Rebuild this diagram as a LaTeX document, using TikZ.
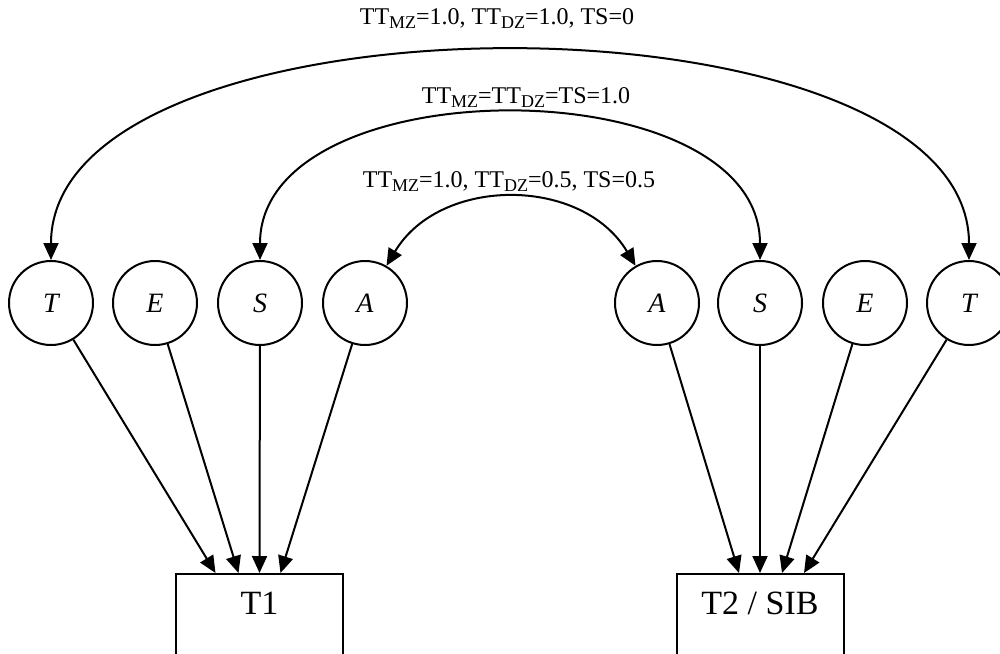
\documentclass[tikz,border=0pt]{standalone}
\usepackage{fontspec}
\setmainfont{Liberation Serif}
\usetikzlibrary{arrows.meta,calc}
\newcommand{\sbx}[1]{{\fontsize{18}{18}\selectfont\raisebox{-4pt}{#1}}}
\begin{document}
\begin{tikzpicture}[x=1pt,y=-1pt,
  latent/.style={circle,draw,line width=2pt,minimum size=84pt,inner sep=0pt,font=\fontsize{28}{32}\selectfont\itshape},
  obsbox/.style={draw,line width=2pt,minimum width=167pt,inner ysep=0pt,text height=40pt,text depth=120pt,anchor=north,font=\fontsize{34}{38}\selectfont},
  lab/.style={font=\fontsize{24}{28}\selectfont,inner sep=0pt},
  arr/.style={line width=2pt,-{Triangle[length=17pt,width=15pt]}},
  darr/.style={line width=2pt,{Triangle[length=17pt,width=15pt]}-{Triangle[length=17pt,width=15pt]}}]
\useasboundingbox (0,0) rectangle (1000,653);
\clip (0,0) rectangle (1000,653);
\fill[white] (0,0) rectangle (1000,653);
% latent variables
\node[latent] (Tl) at (51,303) {T};
\node[latent] (El) at (155,303) {E};
\node[latent] (Sl) at (260,303) {S};
\node[latent] (Al) at (365,303) {A};
\node[latent] (Ar) at (657,303) {A};
\node[latent] (Sr) at (760,303) {S};
\node[latent] (Er) at (865,303) {E};
\node[latent] (Tr) at (969,303) {T};
% observed
\node[obsbox] (B1) at (259.5,573) {T1};
\node[obsbox] (B2) at (760,573) {T2 / SIB};
\coordinate (b1t) at ($(B1.north)+(-44,0)$);
\coordinate (b1e) at ($(B1.north)+(-21,0)$);
\coordinate (b1s) at ($(B1.north)+(0,0)$);
\coordinate (b1a) at ($(B1.north)+(21,0)$);
\coordinate (b2a) at ($(B2.north)+(-21,0)$);
\coordinate (b2s) at ($(B2.north)+(0,0)$);
\coordinate (b2e) at ($(B2.north)+(22,0)$);
\coordinate (b2t) at ($(B2.north)+(44,0)$);
\draw[arr] (Tl) -- (b1t);
\draw[arr] (El) -- (b1e);
\draw[arr] (Sl) -- (b1s);
\draw[arr] (Al) -- (b1a);
\draw[arr] (Ar) -- (b2a);
\draw[arr] (Sr) -- (b2s);
\draw[arr] (Er) -- (b2e);
\draw[arr] (Tr) -- (b2t);
% correlations
\draw[darr] (Tl.north) .. controls (51,-17) and (969,-17) .. (Tr.north);
\draw[darr] (Sl.north) .. controls (260,66) and (760,66) .. (Sr.north);
\draw[darr] (Al.60) .. controls (440,176) and (582,176) .. (Ar.120);
% labels
\node[lab] (L1) at (497,19) {TT\sbx{MZ}=1.0, TT\sbx{DZ}=1.0, TS=0};
\node[lab] (L2) at (526,98) {TT\sbx{MZ}=TT\sbx{DZ}=TS=1.0};
\node[lab] (L3) at (509,182) {TT\sbx{MZ}=1.0, TT\sbx{DZ}=0.5, TS=0.5};
\end{tikzpicture}
\end{document}
